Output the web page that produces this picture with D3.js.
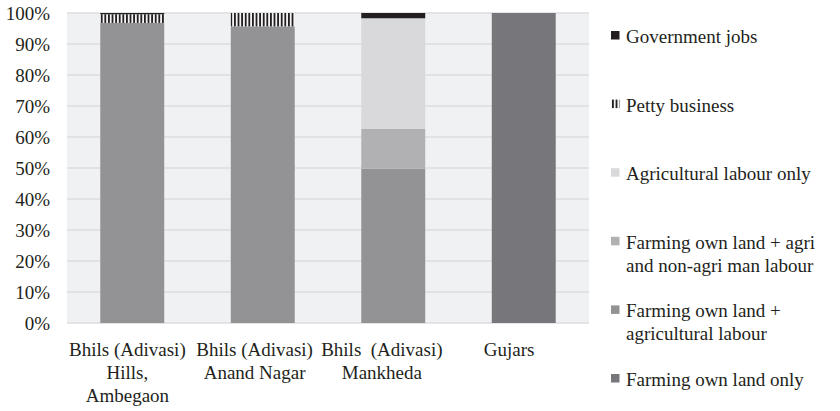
<!DOCTYPE html>
<html>
<head>
<meta charset="utf-8">
<script src="https://cdn.jsdelivr.net/npm/d3@7"></script>
<style>
  html, body { margin: 0; padding: 0; background: #ffffff; }
</style>
</head>
<body>
<svg id="chart" width="840" height="411"></svg>
<script>
// Occupational profile of households by community (share of households, %)
const categories = ["Hills, Ambegaon", "Anand Nagar", "Mankheda", "Gujars"];
const categoryLines = [
  ["Bhils (Adivasi)", "Hills,", "Ambegaon"],
  ["Bhils (Adivasi)", "Anand Nagar"],
  ["Bhils  (Adivasi)", "Mankheda"],
  ["Gujars"]
];

const farmingOwnLandOnly     = [0, 0, 0, 100];
const farmingPlusAgriLabour  = [96.8, 95.7, 49.8, 0];
const farmingPlusMixedLabour = [0, 0, 12.8, 0];
const agriLabourOnly         = [0, 0, 35.7, 0];
const pettyBusiness          = [2.8, 4.3, 0, 0];
const governmentJobs         = [0.4, 0, 1.7, 0];

const seriesKeys = ["own", "ownAgri", "ownMixed", "agriOnly", "petty", "govt"];
const seriesValues = [farmingOwnLandOnly, farmingPlusAgriLabour, farmingPlusMixedLabour,
                      agriLabourOnly, pettyBusiness, governmentJobs];
const seriesFills = ["#77777b", "#939396", "#b1b1b4", "#d9d9db", "url(#stripes)", "#231f20"];

// Legend, listed top to bottom
const legendKeys = ["govt", "petty", "agriOnly", "ownMixed", "ownAgri", "own"];
const legendLabels = [
  ["Government jobs"],
  ["Petty business"],
  ["Agricultural labour only"],
  ["Farming own land + agri", "and non-agri man labour"],
  ["Farming own land +", "agricultural labour"],
  ["Farming own land only"]
];

const yTicks = [0, 10, 20, 30, 40, 50, 60, 70, 80, 90, 100];

// Pick the first serif face that is actually installed
function pickSerif() {
  const ctx = document.createElement("canvas").getContext("2d");
  const sample = "Government jobs 100% Agricultural";
  const widthWith = f => { ctx.font = `40px ${f}`; return ctx.measureText(sample).width; };
  const base = widthWith("monospace");
  const candidates = ["Liberation Serif", "DejaVu Serif", "Noto Serif", "Times New Roman",
                      "Tinos", "FreeSerif", "Nimbus Roman", "Georgia"];
  for (const c of candidates) {
    if (Math.abs(widthWith(`'${c}', monospace`) - base) > 0.5) return `'${c}', serif`;
  }
  return "serif";
}
const FONT = pickSerif();
const FONT_SIZE = 19;
const INK = "#231f20";

const svg = d3.select("#chart");
const plot = { left: 67, right: 589, top: 13, bottom: 323 };

// Vertical stripe fill used by the petty business segments
const defs = svg.append("defs");
const pat = defs.append("pattern")
  .attr("id", "stripes")
  .attr("patternUnits", "userSpaceOnUse")
  .attr("width", 3.6).attr("height", 10);
pat.append("rect").attr("width", 3.6).attr("height", 10).attr("fill", "#f4f4f4");
pat.append("rect").attr("width", 1.8).attr("height", 10).attr("fill", INK);

const rows = categories.map((c, i) => {
  const r = { category: c };
  seriesKeys.forEach((k, j) => { r[k] = seriesValues[j][i]; });
  return r;
});
const stacked = d3.stack().keys(seriesKeys)(rows);
const fillOf = k => seriesFills[seriesKeys.indexOf(k)];

const x = d3.scaleBand().domain(categories)
  .range([plot.left, plot.right]).paddingInner(0.51).paddingOuter(0.255);
const y = d3.scaleLinear().domain([0, 100]).range([plot.bottom, plot.top]);

// Plot background and gridlines
svg.append("rect")
  .attr("x", plot.left).attr("y", plot.top)
  .attr("width", plot.right - plot.left).attr("height", plot.bottom - plot.top)
  .attr("fill", "#f0f1f3");

svg.append("g").selectAll("line").data(yTicks).join("line")
  .attr("x1", plot.left).attr("x2", plot.right)
  .attr("y1", d => y(d)).attr("y2", d => y(d))
  .attr("stroke", "#dcdde0").attr("stroke-width", 1.3);

// Y axis labels
const yAxis = d3.axisLeft(y).tickValues(yTicks).tickFormat(d => d + "%").tickSize(0).tickPadding(17);
const yg = svg.append("g").attr("transform", `translate(${plot.left},0)`).call(yAxis);
yg.attr("font-family", FONT).attr("font-size", FONT_SIZE);
yg.select(".domain").remove();
yg.selectAll("text").attr("fill", INK).attr("dy", "0.33em");

// Stacked bars
svg.append("g").selectAll("g").data(stacked).join("g")
  .attr("fill", d => fillOf(d.key))
  .selectAll("rect").data(d => d).join("rect")
  .attr("x", d => x(d.data.category))
  .attr("width", x.bandwidth())
  .attr("y", d => y(d[1]))
  .attr("height", d => y(d[0]) - y(d[1]));

// Category labels
const xLabel = d3.scaleBand().domain(categories).range([63.8, 572.7]);
const xg = svg.append("g").attr("font-family", FONT).attr("font-size", FONT_SIZE).attr("fill", INK);
categories.forEach((c, i) => {
  const cx = xLabel(c) + xLabel.bandwidth() / 2;
  const t = xg.append("text")
    .attr("text-anchor", "middle")
    .style("white-space", "pre");
  categoryLines[i].forEach((line, j) => {
    t.append("tspan").attr("x", cx).attr("y", 356 + j * 23).text(line);
  });
});

// Legend: entries evenly spaced by their first line
const legend = svg.append("g").attr("font-family", FONT).attr("font-size", FONT_SIZE).attr("fill", INK);
legendKeys.forEach((k, i) => {
  const lines = legendLabels[i];
  const cy = 37 + i * 68.6;
  legend.append("rect")
    .attr("x", 611).attr("y", cy - 6)
    .attr("width", 8.5).attr("height", 8.5)
    .attr("fill", fillOf(k));
  const t = legend.append("text");
  lines.forEach((line, j) => {
    t.append("tspan").attr("x", 626).attr("y", cy + 6 + j * 23).text(line);
  });
});
</script>
</body>
</html>
